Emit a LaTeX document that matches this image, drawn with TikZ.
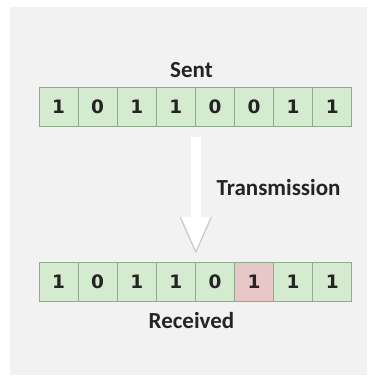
\documentclass[tikz,border=0pt]{standalone}
\usepackage{fontspec}
\setmainfont{Carlito}
\newfontfamily\bitfont{DejaVu Sans}
\usetikzlibrary{calc}
\definecolor{BackClr}{HTML}{F2F2F2}
\definecolor{BitClr}{HTML}{D5EBD0}
\definecolor{ErrClr}{HTML}{E8C7C8}
\definecolor{BitLine}{HTML}{8FAA8C}
\definecolor{TxtClr}{HTML}{242424}
\definecolor{HeadLine}{HTML}{C8C8C8}

\tikzset{
  bit/.style={draw=BitLine, line width=0.8pt, minimum width=39.1pt,
    minimum height=39pt, inner sep=0pt, text=TxtClr,
    font=\fontsize{18.5}{18.5}\bitfont\bfseries},
  lbl/.style={inner sep=0pt, text=TxtClr,
    font=\fontsize{23}{23}\selectfont\bfseries}
}

\begin{document}
\begin{tikzpicture}[x=1pt,y=-1pt]
\useasboundingbox (0,0) rectangle (367,385);
\fill[BackClr] (10,7) rectangle (367,375);

% sent word
\foreach \b/\c [count=\i] in {1/BitClr,0/BitClr,1/BitClr,1/BitClr,0/BitClr,0/BitClr,1/BitClr,1/BitClr}
  \node[bit,fill=\c] (s\i) at (19.45+39.1*\i,106.5) {\b};

% received word, bit 6 flipped
\foreach \b/\c [count=\i] in {1/BitClr,0/BitClr,1/BitClr,1/BitClr,0/BitClr,1/ErrClr,1/BitClr,1/BitClr}
  \node[bit,fill=\c] (r\i) at (19.45+39.1*\i,282) {\b};

\node[lbl,anchor=base] (sent) at (191.5,78) {Sent};
\node[lbl,anchor=base] (recv) at (191.5,328.5) {Received};
\node[lbl,anchor=base west] (trans) at (216.5,195) {Transmission};

% white arrow between the two words
\coordinate (tail) at ($(s4.south east)+(0,11)$);
\coordinate (tip) at ($(r4.north east)+(0,-10)$);
\filldraw[fill=white,draw=HeadLine,line width=1.2pt,line join=round]
  ($(tip)+(-15.5,-35)$) -- (tip) -- ($(tip)+(15.5,-35)$);
\fill[white] ($(tail)+(-5,0)$) rectangle ($(tip)+(5,-35)$);

\end{tikzpicture}
\end{document}
